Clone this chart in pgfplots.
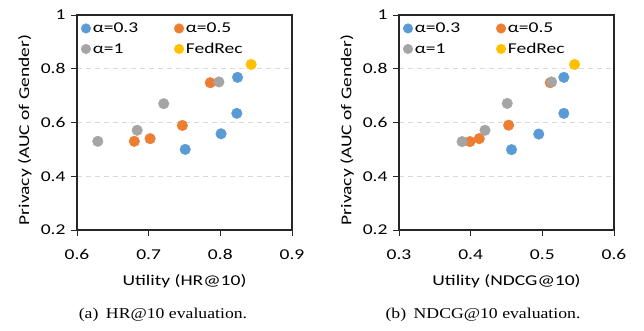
\documentclass[border=0pt]{standalone}
\usepackage{fontspec}
\setmainfont{Carlito}[FakeStretch=1.3]
\newfontfamily\capfont{Liberation Serif}[FakeStretch=1.18]
\usepackage{pgfplots}
\pgfplotsset{compat=1.18}
\definecolor{cblue}{HTML}{5B9BD5}
\definecolor{corange}{HTML}{ED7D31}
\definecolor{cgray}{HTML}{A5A5A5}
\definecolor{cyellow}{HTML}{FFC000}
\definecolor{frame}{HTML}{262626}
\pgfplotsset{
  myaxis/.style={
    scale only axis, width=215pt, height=215pt,
    anchor=south west,
    axis lines=box,
    xtick pos=left, ytick pos=left,
    axis line style={draw=frame, line width=1.1pt},
    ymin=0.2, ymax=1, ytick={0.2,0.4,0.6,0.8,1},
    tick align=outside, major tick length=6pt,
    tick style={frame, line width=0.9pt},
    extra y ticks={0.4,0.6,0.8}, extra y tick labels={},
    extra y tick style={grid=major, major tick length=0pt},
    grid style={gray!30, line width=0.9pt, dash pattern=on 5pt off 4pt},
    /pgf/number format/assume math mode=true,
    tick label style={font=\fontsize{15}{16}\selectfont},
    yticklabel style={xshift=-2pt},
    label style={font=\fontsize{15}{16}\selectfont},
    xticklabel style={anchor=base, yshift=-24pt},
    xlabel style={at={(axis description cs:0.5,0)}, anchor=base, yshift=-55pt},
    ylabel={Privacy (AUC of Gender)},
    ylabel style={at={(axis description cs:-0.242,0.465)}, anchor=center},
    legend columns=2,
    legend style={at={(axis description cs:0,1)}, anchor=north west, draw=none, fill=none,
      inner xsep=4pt, inner ysep=3pt,
      font=\fontsize{15}{16}\selectfont, row sep=0pt,
      nodes={inner sep=2pt, text height=12.5pt, text depth=4pt},
      /tikz/every even column/.append style={column sep=34pt}},
    legend cell align=left,
    legend image code/.code={\draw[#1, only marks, mark size=4.8pt] plot coordinates {(5pt,0pt)};},
    every axis plot/.append style={only marks, mark=*, mark size=5.3pt},
  }
}
\begin{document}
\begin{tikzpicture}
\useasboundingbox (-77pt,-101pt) rectangle (567pt,230pt);
\begin{axis}[myaxis, at={(0pt,0pt)},
  xmin=0.6, xmax=0.9, xtick={0.6,0.7,0.8,0.9},
  xlabel={Utility (HR@10)}]
\addplot[cblue, mark options={fill=cblue, draw=cblue}] coordinates {(0.824,0.768) (0.823,0.634) (0.801,0.558) (0.751,0.5)};
\addlegendentry{α=0.3}
\addplot[corange, mark options={fill=corange, draw=corange}] coordinates {(0.786,0.748) (0.747,0.589) (0.702,0.540) (0.680,0.530)};
\addlegendentry{α=0.5}
\addplot[cgray, mark options={fill=cgray, draw=cgray}] coordinates {(0.798,0.751) (0.721,0.670) (0.684,0.571) (0.629,0.530)};
\addlegendentry{α=1}
\addplot[cyellow, mark options={fill=cyellow, draw=cyellow}] coordinates {(0.843,0.816)};
\addlegendentry{FedRec}
\end{axis}
\begin{axis}[myaxis, at={(322pt,0pt)},
  xmin=0.3, xmax=0.6, xtick={0.3,0.4,0.5,0.6},
  xlabel={Utility (NDCG@10)}]
\addplot[cblue, mark options={fill=cblue, draw=cblue}] coordinates {(0.530,0.768) (0.530,0.634) (0.495,0.557) (0.457,0.499)};
\addlegendentry{α=0.3}
\addplot[corange, mark options={fill=corange, draw=corange}] coordinates {(0.511,0.748) (0.453,0.590) (0.412,0.540) (0.399,0.529)};
\addlegendentry{α=0.5}
\addplot[cgray, mark options={fill=cgray, draw=cgray}] coordinates {(0.513,0.751) (0.451,0.671) (0.420,0.571) (0.388,0.529)};
\addlegendentry{α=1}
\addplot[cyellow, mark options={fill=cyellow, draw=cyellow}] coordinates {(0.545,0.816)};
\addlegendentry{FedRec}
\end{axis}
\draw[frame, line width=1.1pt] (0pt,0pt) rectangle (215pt,215pt);
\draw[frame, line width=1.1pt] (322pt,0pt) rectangle (537pt,215pt);
\node[font=\capfont\fontsize{15}{16}\selectfont, anchor=base] at (86pt,-88pt) {(a)\enspace HR@10 evaluation.};
\node[font=\capfont\fontsize{15}{16}\selectfont, anchor=base] at (406pt,-88pt) {(b)\enspace NDCG@10 evaluation.};
\end{tikzpicture}
\end{document}
